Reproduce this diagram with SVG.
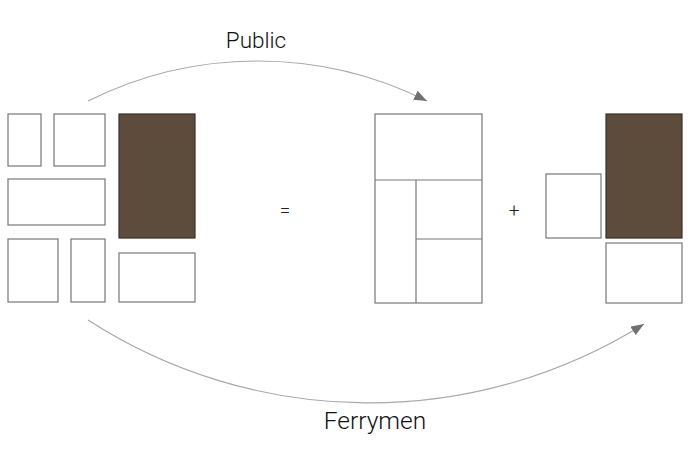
<svg xmlns="http://www.w3.org/2000/svg" width="691" height="451" viewBox="0 0 691 451">
<style>
.box{fill:#ffffff;stroke:#777777;stroke-width:1.2}
.dark{fill:#5d4c3c;stroke:#3a3028;stroke-width:1.2}
.ln{fill:none;stroke:#777777;stroke-width:1.2}
.arc{fill:none;stroke:#a8a8a8;stroke-width:1.2}
.lbl{font-family:Roboto,"Liberation Sans",sans-serif;font-weight:300;fill:#111111}
.op{font-family:Roboto,"Liberation Sans",sans-serif;font-weight:300;font-size:19px;fill:#222222;text-anchor:middle}
</style>
<defs>
<marker id="ah" markerWidth="14" markerHeight="10" refX="13" refY="5" orient="auto" markerUnits="userSpaceOnUse">
<path d="M0,0 L13,5 L0,10 Z" fill="#707070"/>
</marker>
</defs>
<rect width="691" height="451" fill="#ffffff"/>
<g id="left-set">
<rect class="box" x="8" y="114" width="33" height="52"/>
<rect class="box" x="54" y="114" width="51" height="52"/>
<rect class="dark" x="119" y="114" width="76" height="124"/>
<rect class="box" x="8" y="179" width="97" height="46"/>
<rect class="box" x="8" y="239" width="50" height="63"/>
<rect class="box" x="71" y="239" width="34" height="63"/>
<rect class="box" x="119" y="253" width="76" height="49"/>
</g>
<g id="equals"><text class="op" x="285" y="217">=</text></g>
<g id="middle-set">
<rect class="box" x="375" y="114" width="107" height="189"/>
<line class="ln" x1="375" y1="180" x2="482" y2="180"/>
<line class="ln" x1="416" y1="180" x2="416" y2="303"/>
<line class="ln" x1="416" y1="239" x2="482" y2="239"/>
</g>
<g id="plus"><text class="op" x="514" y="217">+</text></g>
<g id="right-set">
<rect class="box" x="546" y="174" width="55" height="64"/>
<rect class="dark" x="606" y="114" width="76" height="124"/>
<rect class="box" x="606" y="243" width="76" height="60"/>
</g>
<g id="connectors">
<path class="arc" d="M88,101 A379,379 0 0 1 427,101" marker-end="url(#ah)"/>
<path class="arc" d="M88,320 A518,518 0 0 0 644,324" marker-end="url(#ah)"/>
</g>
<g id="labels">
<text class="lbl" x="256" y="48" font-size="22.5" text-anchor="middle">Public</text>
<text class="lbl" x="375" y="429" font-size="24.5" text-anchor="middle">Ferrymen</text>
</g>
</svg>
